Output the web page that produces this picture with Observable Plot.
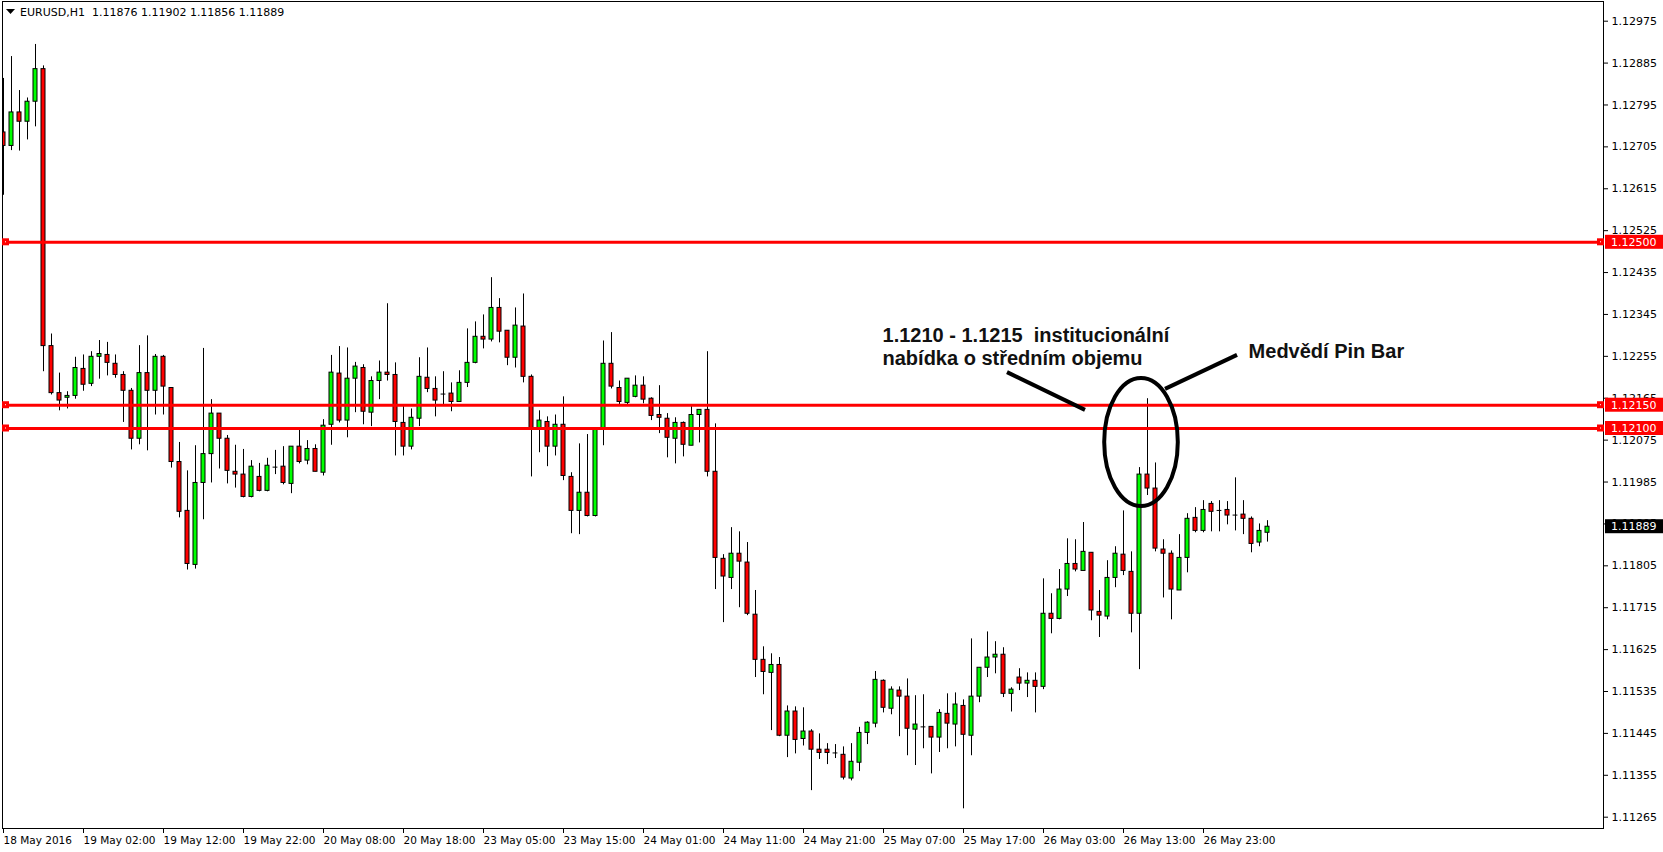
<!DOCTYPE html>
<html><head><meta charset="utf-8">
<script src="https://cdn.jsdelivr.net/npm/d3@7"></script>
<script src="https://cdn.jsdelivr.net/npm/@observablehq/plot@0.6"></script>
<style>html,body{margin:0;padding:0;background:#fff;overflow:hidden} svg{display:block}</style>
</head><body><div id="chart"></div>
<script>
const symbol = "EURUSD,H1";
const opens = [1.12736,1.12707,1.12779,1.12759,1.12802,1.12872,1.12277,1.12176,1.12166,1.12170,
1.12228,1.12196,1.12254,1.12258,1.12239,1.12215,1.12181,1.12078,1.12219,1.12181,
1.12254,1.12187,1.12028,1.11923,1.11807,1.11983,1.12045,1.12132,1.12078,1.12007,
1.12001,1.11953,1.11996,1.11966,1.12017,1.12018,1.11981,1.12061,1.12031,1.12056,
1.12005,1.12108,1.12218,1.12117,1.12207,1.12230,1.12134,1.12202,1.12220,1.12215,
1.12112,1.12061,1.12121,1.12209,1.12185,1.12174,1.12175,1.12157,1.12198,1.12241,
1.12297,1.12291,1.12359,1.12310,1.12252,1.12319,1.12211,1.12097,1.12114,1.12061,
1.12108,1.11996,1.11923,1.11962,1.11912,1.12097,1.12239,1.12187,1.12155,1.12168,
1.12192,1.12164,1.12129,1.12121,1.12078,1.12112,1.12063,1.12129,1.12140,1.12007,
1.11820,1.11779,1.11831,1.11812,1.11700,1.11603,1.11575,1.11592,1.11440,1.11492,
1.11433,1.11449,1.11410,1.11410,1.11403,1.11399,1.11348,1.11382,1.11446,1.11466,
1.11558,1.11498,1.11537,1.11524,1.11453,1.11459,1.11459,1.11436,1.11487,1.11464,
1.11504,1.11440,1.11524,1.11586,1.11608,1.11614,1.11530,1.11565,1.11552,1.11558,
1.11545,1.11702,1.11691,1.11754,1.11809,1.11794,1.11833,1.11706,1.11696,1.11779,
1.11829,1.11792,1.11702,1.12001,1.11971,1.11840,1.11831,1.11752,1.11822,1.11908,
1.11880,1.11938,1.11924,1.11925,1.11914,1.11915,1.11906,1.11855,1.11876];
const highs = [1.12852,1.12899,1.12826,1.12810,1.12925,1.12879,1.12303,1.12219,1.12179,1.12253,
1.12258,1.12265,1.12289,1.12285,1.12258,1.12222,1.12186,1.12278,1.12299,1.12259,
1.12257,1.12188,1.12070,1.12009,1.12063,1.12272,1.12162,1.12132,1.12085,1.12064,
1.12055,1.12031,1.12025,1.12036,1.12053,1.12061,1.12061,1.12097,1.12074,1.12065,
1.12119,1.12257,1.12276,1.12273,1.12242,1.12237,1.12211,1.12245,1.12368,1.12241,
1.12147,1.12142,1.12252,1.12273,1.12211,1.12222,1.12198,1.12224,1.12314,1.12329,
1.12344,1.12424,1.12379,1.12310,1.12359,1.12389,1.12215,1.12138,1.12125,1.12129,
1.12168,1.12005,1.12067,1.12087,1.12099,1.12288,1.12306,1.12202,1.12207,1.12213,
1.12211,1.12166,1.12192,1.12132,1.12123,1.12114,1.12151,1.12140,1.12265,1.12110,
1.11829,1.11887,1.11878,1.11855,1.11752,1.11631,1.11616,1.11608,1.11504,1.11502,
1.11500,1.11453,1.11444,1.11423,1.11421,1.11416,1.11423,1.11458,1.11470,1.11578,
1.11560,1.11545,1.11545,1.11562,1.11526,1.11528,1.11459,1.11496,1.11530,1.11532,
1.11517,1.11648,1.11586,1.11663,1.11642,1.11629,1.11543,1.11584,1.11575,1.11575,
1.11777,1.11745,1.11797,1.11863,1.11861,1.11898,1.11833,1.11752,1.11816,1.11846,
1.11923,1.11835,1.12016,1.12164,1.12026,1.11861,1.11837,1.11872,1.11917,1.11930,
1.11945,1.11943,1.11945,1.11943,1.11994,1.11945,1.11910,1.11895,1.11902];
const lows = [1.12601,1.12697,1.12696,1.12720,1.12748,1.12222,1.12172,1.12138,1.12142,1.12163,
1.12180,1.12190,1.12206,1.12213,1.12208,1.12113,1.12054,1.12065,1.12052,1.12129,
1.12129,1.12015,1.11908,1.11796,1.11798,1.11904,1.11983,1.12013,1.11981,1.11972,
1.11951,1.11951,1.11964,1.11964,1.12001,1.11979,1.11960,1.12024,1.12022,1.12007,
1.11998,1.12064,1.12112,1.12080,1.12134,1.12108,1.12104,1.12162,1.12202,1.12041,
1.12041,1.12054,1.12104,1.12177,1.12125,1.12151,1.12136,1.12157,1.12188,1.12239,
1.12271,1.12286,1.12284,1.12235,1.12230,1.12198,1.11996,1.12048,1.12018,1.12041,
1.11988,1.11874,1.11872,1.11910,1.11910,1.12063,1.12185,1.12149,1.12149,1.12166,
1.12153,1.12117,1.12089,1.12037,1.12024,1.12039,1.12063,1.12069,1.11996,1.11754,
1.11683,1.11754,1.11715,1.11698,1.11565,1.11528,1.11451,1.11438,1.11393,1.11401,
1.11418,1.11322,1.11389,1.11378,1.11391,1.11345,1.11343,1.11363,1.11421,1.11457,
1.11489,1.11485,1.11438,1.11397,1.11376,1.11412,1.11358,1.11404,1.11412,1.11416,
1.11283,1.11397,1.11511,1.11565,1.11573,1.11522,1.11491,1.11537,1.11522,1.11489,
1.11539,1.11659,1.11689,1.11739,1.11792,1.11794,1.11687,1.11651,1.11689,1.11758,
1.11784,1.11661,1.11582,1.11956,1.11835,1.11736,1.11689,1.11752,1.11790,1.11876,
1.11876,1.11878,1.11878,1.11893,1.11880,1.11872,1.11833,1.11846,1.11856];
const closes = [1.12707,1.12779,1.12759,1.12802,1.12872,1.12277,1.12176,1.12160,1.12170,1.12230,
1.12194,1.12254,1.12260,1.12241,1.12215,1.12181,1.12078,1.12219,1.12181,1.12254,
1.12190,1.12028,1.11921,1.11809,1.11983,1.12045,1.12132,1.12078,1.12009,1.12001,
1.11953,1.12018,1.11966,1.12020,1.12017,1.11983,1.12061,1.12028,1.12056,1.12007,
1.12106,1.12220,1.12117,1.12207,1.12233,1.12136,1.12202,1.12220,1.12215,1.12114,
1.12061,1.12123,1.12211,1.12185,1.12160,1.12174,1.12157,1.12198,1.12241,1.12297,
1.12291,1.12359,1.12308,1.12252,1.12321,1.12211,1.12097,1.12117,1.12061,1.12108,
1.11998,1.11923,1.11962,1.11912,1.12099,1.12239,1.12190,1.12157,1.12207,1.12192,
1.12162,1.12127,1.12123,1.12080,1.12112,1.12065,1.12129,1.12140,1.12007,1.11822,
1.11782,1.11831,1.11814,1.11702,1.11603,1.11577,1.11592,1.11440,1.11492,1.11431,
1.11449,1.11410,1.11403,1.11403,1.11403,1.11350,1.11384,1.11446,1.11468,1.11560,
1.11500,1.11539,1.11524,1.11455,1.11464,1.11459,1.11436,1.11489,1.11466,1.11507,
1.11442,1.11524,1.11586,1.11608,1.11614,1.11530,1.11539,1.11552,1.11558,1.11545,
1.11702,1.11691,1.11754,1.11809,1.11797,1.11835,1.11709,1.11698,1.11779,1.11831,
1.11794,1.11702,1.12001,1.11971,1.11842,1.11831,1.11754,1.11822,1.11906,1.11880,
1.11925,1.11921,1.11924,1.11913,1.11914,1.11906,1.11852,1.11880,1.11889];
const tickLabels = ["18 May 2016","19 May 02:00","19 May 12:00","19 May 22:00","20 May 08:00","20 May 18:00",
"23 May 05:00","23 May 15:00","24 May 01:00","24 May 11:00","24 May 21:00","25 May 07:00",
"25 May 17:00","26 May 03:00","26 May 13:00","26 May 23:00"];
const barsPerTick = 10;
const priceTicks = [1.11265,1.11355,1.11445,1.11535,1.11625,1.11715,1.11805,1.11895,1.11985,1.12075,
1.12165,1.12255,1.12345,1.12435,1.12525,1.12615,1.12705,1.12795,1.12885,1.12975];
const levels = [1.12500, 1.12150, 1.12100];
const noteLines = ["1.1210 - 1.1215  institucionální", "nabídka o středním objemu"];
const pinNote = "Medvědí Pin Bar";

const bars = opens.map((o, i) => ({i, open: o, high: highs[i], low: lows[i], close: closes[i]}));
const xDomain = [-0.125, 200];
const yDomain = [1.112407, 1.130173];
const UP = "#00ff00", DOWN = "#ff0000";

const plot = Plot.plot({
  width: 1663, height: 852,
  marginLeft: 2, marginRight: 60, marginTop: 1, marginBottom: 24,
  style: {fontFamily: "'DejaVu Sans', sans-serif", fontSize: "11px", color: "black", background: "white"},
  x: {type: "linear", domain: xDomain, axis: null, label: null},
  y: {type: "linear", domain: yDomain, axis: null, label: null},
  marks: [
    Plot.ruleX(bars, {x: "i", y1: "low", y2: "high", stroke: "black", strokeWidth: 1, clip: true}),
    Plot.rect(bars.filter(d => d.open !== d.close), {
      x1: d => d.i - 0.25, x2: d => d.i + 0.25, y1: "open", y2: "close",
      fill: d => d.close > d.open ? UP : DOWN, stroke: "black", strokeWidth: 1, clip: true
    }),
    Plot.ruleY(bars.filter(d => d.open === d.close), {y: "open", x1: d => d.i - 0.3, x2: d => d.i + 0.3, stroke: "black", clip: true}),
    Plot.ruleY(levels, {y: d => d, stroke: "#ff0000", strokeWidth: 3}),
    Plot.axisY(priceTicks, {anchor: "right", label: null, tickSize: 4, tickPadding: 4, tickFormat: d3.format(".5f"), fontSize: 11}),
    Plot.axisX(tickLabels.map((_, k) => k * barsPerTick), {anchor: "bottom", label: null, tickSize: 5, tickPadding: 3,
      tickFormat: v => tickLabels[v / barsPerTick], textAnchor: "start", dx: 0, fontSize: 10.5}),
    Plot.frame({stroke: "black"})
  ]
});
document.getElementById("chart").appendChild(plot);

const svg = d3.select(plot);
const xs = plot.scale("x"), ys = plot.scale("y");
const X = v => xs.apply(v), Y = v => ys.apply(v);
const xL = X(xDomain[0]), xR = X(xDomain[1]);
const f5 = d3.format(".5f");

// level markers and labels
const g = svg.append("g").attr("text-anchor", "start").attr("font-family", "'DejaVu Sans', sans-serif");
levels.forEach(l => {
  const y = Y(l);
  g.append("rect").attr("x", xL).attr("y", y - 3.5).attr("width", 7).attr("height", 7).attr("fill", "#ff0000");
  g.append("rect").attr("x", xL + 3).attr("y", y - 0.5).attr("width", 1).attr("height", 1).attr("fill", "#fff");
  g.append("rect").attr("x", xR - 6).attr("y", y - 3.5).attr("width", 7).attr("height", 7).attr("fill", "#ff0000");
  g.append("rect").attr("x", xR - 3).attr("y", y - 0.5).attr("width", 1).attr("height", 1).attr("fill", "#fff");
  g.append("rect").attr("x", xR + 2).attr("y", y - 7).attr("width", 58).attr("height", 14).attr("fill", "#ff0000");
  g.append("text").attr("x", xR + 8).attr("y", y).attr("dy", "0.35em").attr("fill", "#fff")
    .attr("font-size", 11).text(f5(l));
});
// current price label
const last = bars[bars.length - 1];
g.append("rect").attr("x", xR + 2).attr("y", Y(last.close) - 7).attr("width", 58).attr("height", 14).attr("fill", "#000");
g.append("text").attr("x", xR + 8).attr("y", Y(last.close)).attr("dy", "0.35em").attr("fill", "#fff")
  .attr("font-size", 11).text(f5(last.close));

// header
g.append("rect").attr("x", xL + 1).attr("y", 2).attr("width", 290).attr("height", 19).attr("fill", "#fff");
g.append("path").attr("d", `M${xL + 4},9 L${xL + 13},9 L${xL + 8.5},14 Z`).attr("fill", "#000");
g.append("text").attr("x", xL + 18).attr("y", 12).attr("dy", "0.35em").attr("font-size", 11)
  .style("white-space", "pre").attr("fill", "#000")
  .text(`${symbol}  ${f5(last.open)} ${f5(last.high)} ${f5(last.low)} ${f5(last.close)}`);

// annotations (anchored in data coordinates)
const noteAt = {i: 109.94, p: [1.12285, 1.12235]};
const pinAt = {i: 155.7, p: 1.12250};
const pointers = [[125.5, 1.12220, 135.25, 1.12139], [154.25, 1.12257, 145.25, 1.12184]];
const ring = {i: 142.25, p: 1.12070, di: 4.6, dp: 0.001375};
const a = svg.append("g").attr("text-anchor", "start").attr("font-family", "'Liberation Sans', Arial, sans-serif")
  .attr("font-weight", "bold").attr("font-size", 20).attr("fill", "#111");
noteLines.forEach((t, k) => a.append("text").attr("x", X(noteAt.i)).attr("y", Y(noteAt.p[k])).style("white-space", "pre").text(t));
a.append("text").attr("x", X(pinAt.i)).attr("y", Y(pinAt.p)).text(pinNote);
pointers.forEach(([i1, p1, i2, p2]) => a.append("line").attr("x1", X(i1)).attr("y1", Y(p1)).attr("x2", X(i2)).attr("y2", Y(p2))
  .attr("stroke", "#000").attr("stroke-width", 4));
a.append("ellipse").attr("cx", X(ring.i)).attr("cy", Y(ring.p))
  .attr("rx", X(ring.i + ring.di) - X(ring.i)).attr("ry", Y(ring.p - ring.dp) - Y(ring.p))
  .attr("fill", "none").attr("stroke", "#000").attr("stroke-width", 4);
</script>
</body></html>
